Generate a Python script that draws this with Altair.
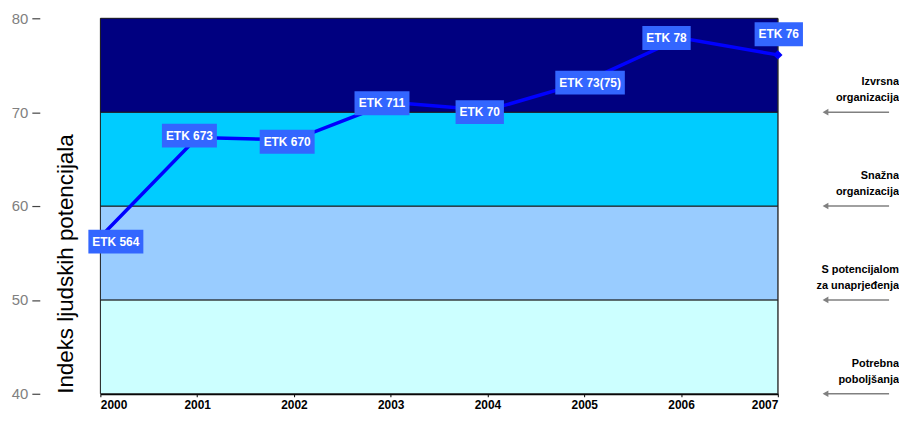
import altair as alt
import pandas as pd

# ---- data ----
years = [2000, 2001, 2002, 2003, 2004, 2005, 2006, 2007]
values = [56.7, 67.3, 67.05, 71.05, 70.2, 73.2, 77.9, 76.1]
labels = ["ETK 564", "ETK 673", "ETK 670", "ETK 711", "ETK 70", "ETK 73(75)", "ETK 78", "ETK 76"]
label_years = [2000.16, 2000.92, 2001.93, 2002.91, 2003.92, 2005.06, 2005.85, 2007.01]
label_values = [56.2, 67.5, 66.85, 70.95, 70.0, 73.15, 77.9, 78.3]

band_low = [40, 50, 60, 70]
band_high = [50, 60, 70, 80]
band_colors = ["#CCFFFF", "#99CCFF", "#00CCFF", "#000080"]
band_names = ["Potrebna\npoboljšanja", "S potencijalom\nza unaprjeđenja",
              "Snažna\norganizacija", "Izvrsna\norganizacija"]

y_ticks = [40, 50, 60, 70, 80]
y_title = "Indeks ljudskih potencijala"

W, H = 682, 378
FONT = "Liberation Sans"

xscale = alt.Scale(domain=[2000, 2007], nice=False, zero=False)
yscale = alt.Scale(domain=[40, 80], nice=False, zero=False)

line_df = pd.DataFrame({"year": years, "value": values})
lab_df = pd.DataFrame({"year": label_years, "value": label_values, "label": labels})
band_df = pd.DataFrame({"low": band_low, "high": band_high, "color": band_colors, "name": band_names})

xaxis = alt.Axis(values=years, format="d", labelFontWeight="bold", labelFontSize=12,
                 labelColor="black", labelFont=FONT, domainColor="black", domainWidth=2,
                 tickColor="black", tickSize=3, labelPadding=3, title=None, grid=False)
yaxis = alt.Axis(values=y_ticks, offset=61, domain=False, tickSize=8, tickColor="#444444",
                 tickWidth=1.2, labelColor="#808080", labelFontSize=15, labelFont=FONT,
                 labelPadding=4, title=None, grid=False)

bands = alt.Chart(band_df).mark_rect(stroke="#1a1a1a", strokeWidth=1).encode(
    x=alt.value(0), x2=alt.value(W),
    y=alt.Y("low:Q", scale=yscale, axis=yaxis),
    y2="high:Q",
    color=alt.Color("color:N", scale=None),
)

# invisible layer carrying the x axis
xaxis_layer = alt.Chart(line_df).mark_point(opacity=0).encode(
    x=alt.X("year:Q", scale=xscale, axis=xaxis),
    y=alt.Y("value:Q", scale=yscale),
)

line = alt.Chart(line_df).mark_line(color="#0000FF", strokeWidth=3.5).encode(
    x=alt.X("year:Q", scale=xscale), y=alt.Y("value:Q", scale=yscale))
points = alt.Chart(line_df).mark_point(shape="diamond", filled=True, size=90,
                                       color="#0000FF", opacity=1).encode(
    x=alt.X("year:Q", scale=xscale), y=alt.Y("value:Q", scale=yscale))

char_w = {"E": 8.0, "T": 7.33, "K": 8.67, " ": 3.33, "(": 4.0, ")": 4.0}
def box_width(t):
    return sum(char_w.get(c, 6.67) for c in t) + 8

rects = []
for i, t in enumerate(labels):
    rects.append(
        alt.Chart(lab_df.iloc[[i]]).mark_rect(width=box_width(t), height=24, color="#3366FF").encode(
            x=alt.X("year:Q", scale=xscale), y=alt.Y("value:Q", scale=yscale))
    )

texts = alt.Chart(lab_df).mark_text(color="white", fontWeight="bold", fontSize=12, font=FONT).encode(
    x=alt.X("year:Q", scale=xscale), y=alt.Y("value:Q", scale=yscale), text="label:N")

ann_text = alt.Chart(band_df).mark_text(align="right", baseline="bottom", dy=-25, lineBreak="\n",
                                        fontSize=11, fontWeight="bold", lineHeight=16,
                                        font=FONT, color="black").encode(
    x=alt.value(804), y=alt.Y("low:Q", scale=yscale), text="name:N")
ann_rule = alt.Chart(band_df).mark_rule(color="#808080", strokeWidth=1.5).encode(
    x=alt.value(732), x2=alt.value(794), y=alt.Y("low:Q", scale=yscale))
ann_head = alt.Chart(band_df).mark_point(shape="triangle-left", filled=True, size=45,
                                         color="#808080", opacity=1).encode(
    x=alt.value(730), y=alt.Y("low:Q", scale=yscale))

title = alt.Chart(pd.DataFrame({"t": [y_title]})).mark_text(
    angle=270, align="left", baseline="middle", fontSize=22.5, font=FONT, color="black").encode(
    x=alt.value(-35), y=alt.value(H), text="t:N")

chart = alt.layer(bands, xaxis_layer, line, points, *rects, texts, ann_rule, ann_head, ann_text, title).properties(
    width=W, height=H,
    padding={"left": 93, "top": 9, "right": 122, "bottom": 19},
    autosize=alt.AutoSizeParams(type="none"),
).configure_view(stroke="#888888", strokeWidth=1)

chart.save("out.html", embed_options={"renderer": "svg", "actions": False})
